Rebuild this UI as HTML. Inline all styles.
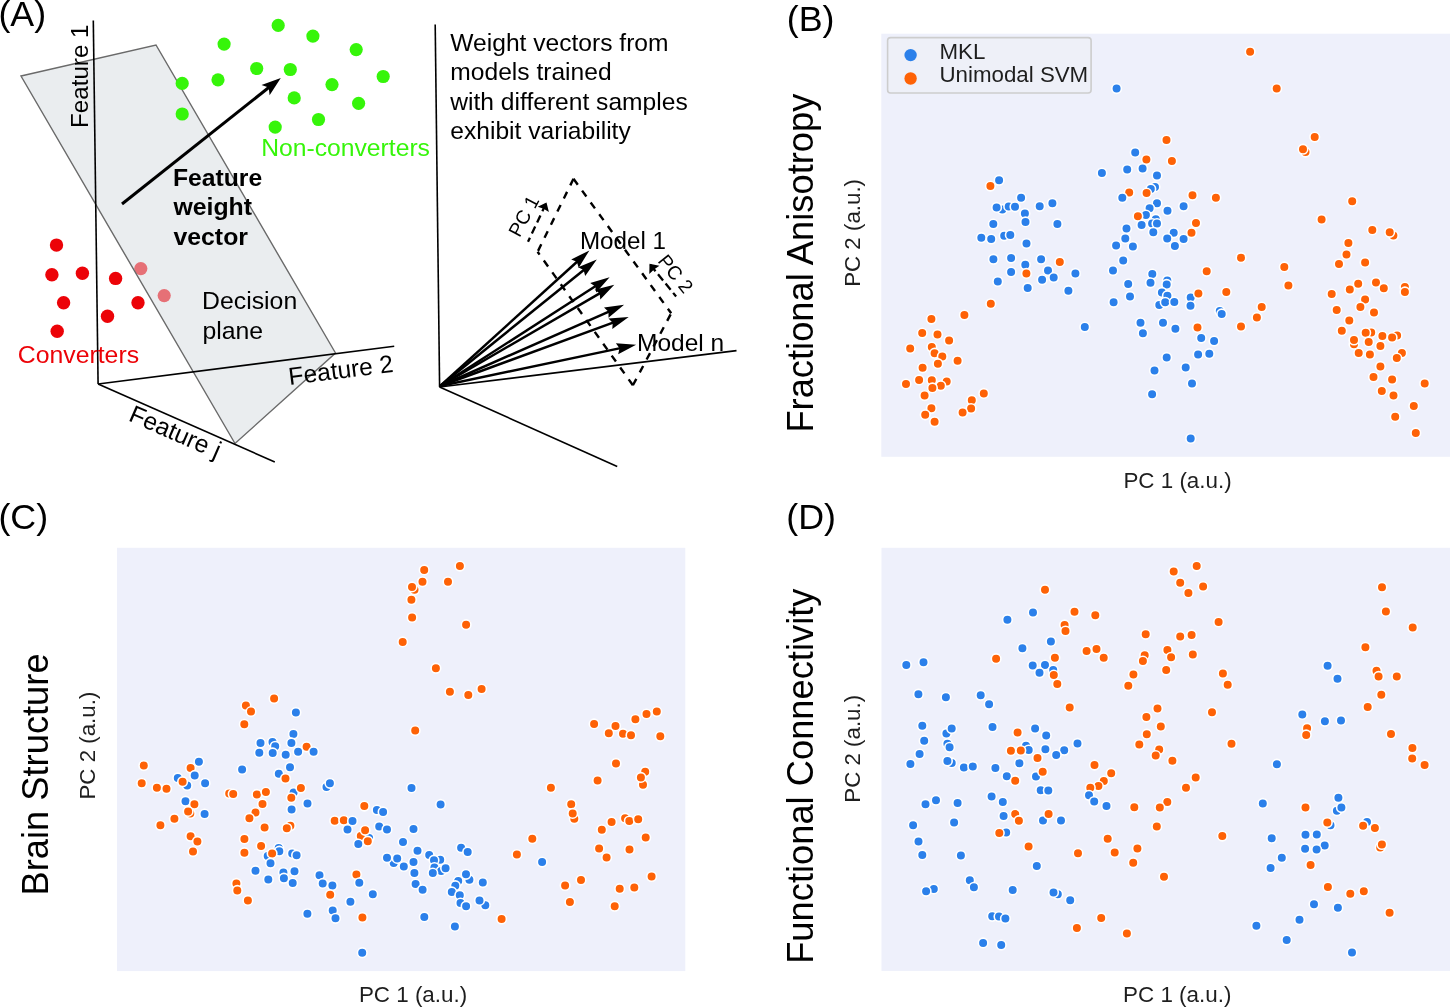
<!DOCTYPE html>
<html><head><meta charset="utf-8"><style>
html,body{margin:0;padding:0;background:#fff;overflow:hidden;}
svg{display:block;will-change:transform;}
text{font-family:"Liberation Sans",sans-serif;}
</style></head><body>
<svg width="1450" height="1007" viewBox="0 0 1450 1007">
<text x="-1.6" y="25.6" font-size="35.8" font-family="Liberation Sans, sans-serif" fill="#000">(A)</text>
<polygon points="21,76 156,45 335.5,353 235,443.5" fill="#eaedef"/>
<circle cx="140.8" cy="268.6" r="6.6" fill="#e67076"/>
<circle cx="164.2" cy="295.6" r="6.6" fill="#e67076"/>
<polygon points="21,76 156,45 335.5,353 235,443.5" fill="none" stroke="#6a6a6a" stroke-width="1.4"/>
<line x1="93.3" y1="20.4" x2="98.1" y2="384" stroke="#000" stroke-width="1.6"/>
<line x1="98.1" y1="384" x2="394.2" y2="346.3" stroke="#000" stroke-width="1.6"/>
<line x1="98.1" y1="384" x2="274.8" y2="462" stroke="#000" stroke-width="1.6"/>
<text transform="translate(88.0,128) rotate(-90)" font-size="24.2" font-family="Liberation Sans, sans-serif" fill="#000">Feature 1</text>
<text transform="translate(289.6,384.9) rotate(-7.2)" font-size="24.6" font-family="Liberation Sans, sans-serif" fill="#000">Feature 2</text>
<text transform="translate(127.4,420.3) rotate(23.5)" font-size="24.6" font-family="Liberation Sans, sans-serif" fill="#000">Feature j</text>
<circle cx="278.2" cy="25.4" r="6.6" fill="#36f50a"/>
<circle cx="312.9" cy="36.1" r="6.6" fill="#36f50a"/>
<circle cx="224.1" cy="44.1" r="6.6" fill="#36f50a"/>
<circle cx="356.2" cy="49.6" r="6.6" fill="#36f50a"/>
<circle cx="256.7" cy="68.5" r="6.6" fill="#36f50a"/>
<circle cx="290.3" cy="69.5" r="6.6" fill="#36f50a"/>
<circle cx="182.2" cy="83.4" r="6.6" fill="#36f50a"/>
<circle cx="218.0" cy="79.8" r="6.6" fill="#36f50a"/>
<circle cx="383.2" cy="76.5" r="6.6" fill="#36f50a"/>
<circle cx="332.0" cy="84.6" r="6.6" fill="#36f50a"/>
<circle cx="294.2" cy="97.9" r="6.6" fill="#36f50a"/>
<circle cx="358.6" cy="103.3" r="6.6" fill="#36f50a"/>
<circle cx="182.2" cy="114.0" r="6.6" fill="#36f50a"/>
<circle cx="318.5" cy="119.5" r="6.6" fill="#36f50a"/>
<circle cx="275.2" cy="127.1" r="6.6" fill="#36f50a"/>
<circle cx="56.5" cy="245.1" r="6.7" fill="#ec0308"/>
<circle cx="51.9" cy="274.8" r="6.7" fill="#ec0308"/>
<circle cx="82.4" cy="273.2" r="6.7" fill="#ec0308"/>
<circle cx="115.6" cy="278.4" r="6.7" fill="#ec0308"/>
<circle cx="63.6" cy="302.7" r="6.7" fill="#ec0308"/>
<circle cx="138.0" cy="302.7" r="6.7" fill="#ec0308"/>
<circle cx="107.5" cy="316.3" r="6.7" fill="#ec0308"/>
<circle cx="57.2" cy="331.3" r="6.7" fill="#ec0308"/>
<text x="261.2" y="155.9" font-size="24.7" font-family="Liberation Sans, sans-serif" fill="#36f50a">Non-converters</text>
<text x="17.8" y="362.6" font-size="24.8" font-family="Liberation Sans, sans-serif" fill="#ec0308">Converters</text>
<line x1="122.0" y1="204.0" x2="269.4" y2="87.0" stroke="#000" stroke-width="3"/><path d="M280.8,78.0 L269.6,95.2 L268.7,87.6 L261.5,85.0 Z" fill="#000"/>
<text x="173.0" y="186.3" font-size="24.7" font-weight="bold" font-family="Liberation Sans, sans-serif" fill="#000">Feature</text>
<text x="173.5" y="215.4" font-size="24.8" font-weight="bold" font-family="Liberation Sans, sans-serif" fill="#000">weight</text>
<text x="173.5" y="244.9" font-size="24.8" font-weight="bold" font-family="Liberation Sans, sans-serif" fill="#000">vector</text>
<text x="202.1" y="309.0" font-size="24.8" font-family="Liberation Sans, sans-serif" fill="#000">Decision</text>
<text x="202.4" y="338.6" font-size="24.8" font-family="Liberation Sans, sans-serif" fill="#000">plane</text>
<line x1="435.2" y1="24.6" x2="439.6" y2="387.0" stroke="#000" stroke-width="1.6"/>
<line x1="439.6" y1="387.0" x2="736.5" y2="350.6" stroke="#000" stroke-width="1.6"/>
<line x1="439.6" y1="387.0" x2="617.2" y2="466.4" stroke="#000" stroke-width="1.6"/>
<text x="450.3" y="50.9" font-size="24.6" font-family="Liberation Sans, sans-serif" fill="#000">Weight vectors from</text>
<text x="450.3" y="80.2" font-size="24.6" font-family="Liberation Sans, sans-serif" fill="#000">models trained</text>
<text x="450.3" y="109.6" font-size="24.6" font-family="Liberation Sans, sans-serif" fill="#000">with different samples</text>
<text x="450.3" y="139.0" font-size="24.6" font-family="Liberation Sans, sans-serif" fill="#000">exhibit variability</text>
<line x1="573.5" y1="178.8" x2="671.2" y2="313.3" stroke="#000" stroke-width="2.4" stroke-dasharray="7.3,7.3"/>
<line x1="573.5" y1="178.8" x2="537.6" y2="251.8" stroke="#000" stroke-width="2.4" stroke-dasharray="7.3,7.3"/>
<line x1="632.9" y1="385.3" x2="537.6" y2="251.8" stroke="#000" stroke-width="2.4" stroke-dasharray="7.3,7.3"/>
<line x1="632.9" y1="385.3" x2="671.2" y2="313.3" stroke="#000" stroke-width="2.4" stroke-dasharray="7.3,7.3"/>
<line x1="546.5" y1="202.5" x2="528.0" y2="241.8" stroke="#000" stroke-width="2.3" stroke-dasharray="7.7,4.6" stroke-dashoffset="-2"/>
<path d="M546.5,202.5 L548.9,212.0 L543.6,208.7 L537.7,206.7 Z" fill="#000"/>
<line x1="649.5" y1="263.8" x2="676.1" y2="296.5" stroke="#000" stroke-width="2.3" stroke-dasharray="8,4" stroke-dashoffset="-1.5"/>
<path d="M649.5,263.8 L659.4,265.7 L654.0,269.4 L649.3,273.9 Z" fill="#000"/>
<text transform="translate(519.4,238.2) rotate(-61.8)" font-size="19.4" font-family="Liberation Sans, sans-serif" fill="#000">PC 1</text>
<text transform="translate(657.0,261.3) rotate(51)" font-size="19.3" font-family="Liberation Sans, sans-serif" fill="#000">PC 2</text>
<line x1="440.2" y1="386.0" x2="577.6" y2="261.2" stroke="#000" stroke-width="2.5"/><path d="M589.4,250.4 L578.7,267.7 L576.8,261.8 L571.2,259.4 Z" fill="#000"/>
<line x1="440.2" y1="386.0" x2="584.4" y2="269.5" stroke="#000" stroke-width="2.5"/><path d="M596.8,259.4 L585.2,276.0 L583.6,270.1 L578.1,267.3 Z" fill="#000"/>
<line x1="440.2" y1="386.0" x2="596.1" y2="285.8" stroke="#000" stroke-width="2.5"/><path d="M609.6,277.2 L596.2,292.4 L595.3,286.4 L590.2,283.0 Z" fill="#000"/>
<line x1="440.2" y1="386.0" x2="600.5" y2="292.8" stroke="#000" stroke-width="2.5"/><path d="M614.3,284.8 L600.3,299.4 L599.6,293.3 L594.6,289.8 Z" fill="#000"/>
<line x1="440.2" y1="386.0" x2="609.5" y2="311.3" stroke="#000" stroke-width="2.5"/><path d="M624.1,304.8 L608.5,317.8 L608.5,311.7 L604.0,307.6 Z" fill="#000"/>
<line x1="440.2" y1="386.0" x2="613.7" y2="322.4" stroke="#000" stroke-width="2.5"/><path d="M628.7,316.9 L612.3,328.9 L612.7,322.8 L608.5,318.4 Z" fill="#000"/>
<line x1="440.2" y1="386.0" x2="620.4" y2="348.1" stroke="#000" stroke-width="2.5"/><path d="M636.1,344.8 L618.2,354.3 L619.5,348.3 L615.9,343.3 Z" fill="#000"/>
<text x="579.9" y="249.3" font-size="24.2" font-family="Liberation Sans, sans-serif" fill="#000">Model 1</text>
<text x="637.0" y="351.1" font-size="24.5" font-family="Liberation Sans, sans-serif" fill="#000">Model n</text>
<text x="786.8" y="30.6" font-size="35.8" font-family="Liberation Sans, sans-serif" fill="#000">(B)</text>
<text x="-1.6" y="528.6" font-size="35.8" font-family="Liberation Sans, sans-serif" fill="#000">(C)</text>
<text x="786.3" y="528.7" font-size="35.8" font-family="Liberation Sans, sans-serif" fill="#000">(D)</text>
<rect x="881.3" y="33.7" width="568.7" height="423.1" fill="#eef0fb"/><g stroke="#fff" stroke-width="1.6"><circle cx="990.4" cy="186.1" r="4.8" fill="#fe6206"/>
<circle cx="999.1" cy="180.2" r="4.8" fill="#2b80ea"/>
<circle cx="1021.1" cy="197.7" r="4.8" fill="#2b80ea"/>
<circle cx="1002.3" cy="209.5" r="4.8" fill="#2b80ea"/>
<circle cx="996.6" cy="207.4" r="4.8" fill="#2b80ea"/>
<circle cx="1008.7" cy="206.4" r="4.8" fill="#2b80ea"/>
<circle cx="1015.0" cy="206.8" r="4.8" fill="#2b80ea"/>
<circle cx="1039.7" cy="206.3" r="4.8" fill="#2b80ea"/>
<circle cx="1052.4" cy="203.3" r="4.8" fill="#2b80ea"/>
<circle cx="1024.9" cy="213.4" r="4.8" fill="#2b80ea"/>
<circle cx="1025.5" cy="221.9" r="4.8" fill="#2b80ea"/>
<circle cx="993.3" cy="224.1" r="4.8" fill="#2b80ea"/>
<circle cx="1057.4" cy="223.9" r="4.8" fill="#2b80ea"/>
<circle cx="981.3" cy="237.7" r="4.8" fill="#2b80ea"/>
<circle cx="991.2" cy="239.0" r="4.8" fill="#2b80ea"/>
<circle cx="1004.2" cy="235.8" r="4.8" fill="#2b80ea"/>
<circle cx="1010.3" cy="234.9" r="4.8" fill="#2b80ea"/>
<circle cx="1026.5" cy="243.5" r="4.8" fill="#2b80ea"/>
<circle cx="1250.1" cy="51.8" r="4.8" fill="#fe6206"/>
<circle cx="1116.6" cy="88.6" r="4.8" fill="#2b80ea"/>
<circle cx="1276.7" cy="88.6" r="4.8" fill="#fe6206"/>
<circle cx="1314.7" cy="137.0" r="4.8" fill="#fe6206"/>
<circle cx="1305.5" cy="152.1" r="4.8" fill="#fe6206"/>
<circle cx="1303.0" cy="149.2" r="4.8" fill="#fe6206"/>
<circle cx="1166.5" cy="140.0" r="4.8" fill="#fe6206"/>
<circle cx="1135.2" cy="152.4" r="4.8" fill="#2b80ea"/>
<circle cx="1146.4" cy="159.6" r="4.8" fill="#fe6206"/>
<circle cx="1171.9" cy="161.1" r="4.8" fill="#fe6206"/>
<circle cx="1101.9" cy="173.0" r="4.8" fill="#2b80ea"/>
<circle cx="1127.2" cy="169.5" r="4.8" fill="#2b80ea"/>
<circle cx="1142.6" cy="168.5" r="4.8" fill="#2b80ea"/>
<circle cx="1157.0" cy="175.5" r="4.8" fill="#2b80ea"/>
<circle cx="1155.0" cy="186.9" r="4.8" fill="#2b80ea"/>
<circle cx="1150.8" cy="188.9" r="4.8" fill="#2b80ea"/>
<circle cx="1129.2" cy="192.6" r="4.8" fill="#fe6206"/>
<circle cx="1146.6" cy="193.1" r="4.8" fill="#fe6206"/>
<circle cx="1122.3" cy="197.8" r="4.8" fill="#2b80ea"/>
<circle cx="1192.5" cy="195.3" r="4.8" fill="#fe6206"/>
<circle cx="1215.9" cy="197.8" r="4.8" fill="#fe6206"/>
<circle cx="1157.0" cy="203.3" r="4.8" fill="#2b80ea"/>
<circle cx="1149.6" cy="208.3" r="4.8" fill="#2b80ea"/>
<circle cx="1145.9" cy="215.0" r="4.8" fill="#2b80ea"/>
<circle cx="1167.5" cy="210.7" r="4.8" fill="#2b80ea"/>
<circle cx="1183.6" cy="206.3" r="4.8" fill="#2b80ea"/>
<circle cx="1137.9" cy="216.2" r="4.8" fill="#fe6206"/>
<circle cx="1155.8" cy="219.2" r="4.8" fill="#2b80ea"/>
<circle cx="1152.1" cy="223.6" r="4.8" fill="#2b80ea"/>
<circle cx="1157.0" cy="223.6" r="4.8" fill="#2b80ea"/>
<circle cx="1141.6" cy="225.1" r="4.8" fill="#2b80ea"/>
<circle cx="1196.0" cy="223.1" r="4.8" fill="#fe6206"/>
<circle cx="1126.5" cy="228.6" r="4.8" fill="#2b80ea"/>
<circle cx="1153.3" cy="232.3" r="4.8" fill="#2b80ea"/>
<circle cx="1173.7" cy="232.8" r="4.8" fill="#2b80ea"/>
<circle cx="1191.5" cy="232.8" r="4.8" fill="#fe6206"/>
<circle cx="1125.3" cy="238.5" r="4.8" fill="#2b80ea"/>
<circle cx="1167.2" cy="238.5" r="4.8" fill="#2b80ea"/>
<circle cx="1183.6" cy="239.0" r="4.8" fill="#2b80ea"/>
<circle cx="1116.1" cy="245.5" r="4.8" fill="#2b80ea"/>
<circle cx="1132.9" cy="246.5" r="4.8" fill="#2b80ea"/>
<circle cx="1174.9" cy="246.0" r="4.8" fill="#2b80ea"/>
<circle cx="1321.6" cy="219.4" r="4.8" fill="#fe6206"/>
<circle cx="1352.2" cy="201.3" r="4.8" fill="#fe6206"/>
<circle cx="1372.3" cy="229.9" r="4.8" fill="#fe6206"/>
<circle cx="1393.4" cy="235.6" r="4.8" fill="#fe6206"/>
<circle cx="1389.7" cy="232.3" r="4.8" fill="#fe6206"/>
<circle cx="1348.4" cy="243.0" r="4.8" fill="#fe6206"/>
<circle cx="993.4" cy="259.2" r="4.8" fill="#2b80ea"/>
<circle cx="1011.1" cy="258.1" r="4.8" fill="#2b80ea"/>
<circle cx="1025.3" cy="264.7" r="4.8" fill="#2b80ea"/>
<circle cx="1041.1" cy="259.2" r="4.8" fill="#2b80ea"/>
<circle cx="1059.8" cy="261.9" r="4.8" fill="#fe6206"/>
<circle cx="1011.1" cy="272.1" r="4.8" fill="#2b80ea"/>
<circle cx="1026.4" cy="273.4" r="4.8" fill="#fe6206"/>
<circle cx="1048.0" cy="270.4" r="4.8" fill="#2b80ea"/>
<circle cx="1053.7" cy="277.6" r="4.8" fill="#2b80ea"/>
<circle cx="1042.1" cy="279.8" r="4.8" fill="#2b80ea"/>
<circle cx="1075.4" cy="273.4" r="4.8" fill="#2b80ea"/>
<circle cx="997.8" cy="281.5" r="4.8" fill="#2b80ea"/>
<circle cx="1027.7" cy="287.9" r="4.8" fill="#2b80ea"/>
<circle cx="1068.4" cy="290.7" r="4.8" fill="#2b80ea"/>
<circle cx="990.8" cy="303.8" r="4.8" fill="#fe6206"/>
<circle cx="964.4" cy="315.0" r="4.8" fill="#fe6206"/>
<circle cx="931.4" cy="319.1" r="4.8" fill="#fe6206"/>
<circle cx="922.2" cy="333.1" r="4.8" fill="#fe6206"/>
<circle cx="937.5" cy="334.4" r="4.8" fill="#fe6206"/>
<circle cx="949.1" cy="340.5" r="4.8" fill="#fe6206"/>
<circle cx="910.2" cy="348.6" r="4.8" fill="#fe6206"/>
<circle cx="931.8" cy="347.1" r="4.8" fill="#fe6206"/>
<circle cx="934.6" cy="353.2" r="4.8" fill="#fe6206"/>
<circle cx="942.3" cy="356.5" r="4.8" fill="#fe6206"/>
<circle cx="957.6" cy="360.8" r="4.8" fill="#fe6206"/>
<circle cx="937.9" cy="363.7" r="4.8" fill="#fe6206"/>
<circle cx="922.6" cy="367.8" r="4.8" fill="#fe6206"/>
<circle cx="919.1" cy="379.9" r="4.8" fill="#fe6206"/>
<circle cx="931.8" cy="380.3" r="4.8" fill="#fe6206"/>
<circle cx="946.7" cy="381.6" r="4.8" fill="#fe6206"/>
<circle cx="940.8" cy="385.8" r="4.8" fill="#fe6206"/>
<circle cx="932.4" cy="387.9" r="4.8" fill="#fe6206"/>
<circle cx="906.0" cy="384.0" r="4.8" fill="#fe6206"/>
<circle cx="924.6" cy="395.6" r="4.8" fill="#fe6206"/>
<circle cx="983.8" cy="393.4" r="4.8" fill="#fe6206"/>
<circle cx="971.8" cy="400.2" r="4.8" fill="#fe6206"/>
<circle cx="971.1" cy="408.5" r="4.8" fill="#fe6206"/>
<circle cx="962.6" cy="412.6" r="4.8" fill="#fe6206"/>
<circle cx="931.4" cy="408.3" r="4.8" fill="#fe6206"/>
<circle cx="925.2" cy="414.8" r="4.8" fill="#fe6206"/>
<circle cx="934.6" cy="421.8" r="4.8" fill="#fe6206"/>
<circle cx="1084.8" cy="327.0" r="4.8" fill="#2b80ea"/>
<circle cx="1123.2" cy="260.5" r="4.8" fill="#2b80ea"/>
<circle cx="1113.0" cy="270.6" r="4.8" fill="#2b80ea"/>
<circle cx="1128.2" cy="284.1" r="4.8" fill="#2b80ea"/>
<circle cx="1130.0" cy="296.4" r="4.8" fill="#2b80ea"/>
<circle cx="1113.6" cy="302.3" r="4.8" fill="#2b80ea"/>
<circle cx="1152.3" cy="274.1" r="4.8" fill="#2b80ea"/>
<circle cx="1150.5" cy="282.8" r="4.8" fill="#2b80ea"/>
<circle cx="1167.3" cy="280.4" r="4.8" fill="#2b80ea"/>
<circle cx="1166.7" cy="284.4" r="4.8" fill="#2b80ea"/>
<circle cx="1161.9" cy="292.4" r="4.8" fill="#2b80ea"/>
<circle cx="1167.4" cy="295.7" r="4.8" fill="#2b80ea"/>
<circle cx="1159.3" cy="304.9" r="4.8" fill="#2b80ea"/>
<circle cx="1165.2" cy="302.3" r="4.8" fill="#2b80ea"/>
<circle cx="1140.5" cy="322.8" r="4.8" fill="#2b80ea"/>
<circle cx="1163.0" cy="322.8" r="4.8" fill="#2b80ea"/>
<circle cx="1142.9" cy="333.3" r="4.8" fill="#2b80ea"/>
<circle cx="1166.7" cy="357.4" r="4.8" fill="#2b80ea"/>
<circle cx="1154.5" cy="370.5" r="4.8" fill="#2b80ea"/>
<circle cx="1152.1" cy="394.3" r="4.8" fill="#2b80ea"/>
<circle cx="1174.3" cy="302.1" r="4.8" fill="#2b80ea"/>
<circle cx="1190.7" cy="297.5" r="4.8" fill="#2b80ea"/>
<circle cx="1190.5" cy="305.8" r="4.8" fill="#2b80ea"/>
<circle cx="1198.4" cy="293.6" r="4.8" fill="#fe6206"/>
<circle cx="1206.7" cy="271.3" r="4.8" fill="#fe6206"/>
<circle cx="1241.0" cy="257.7" r="4.8" fill="#fe6206"/>
<circle cx="1226.3" cy="292.0" r="4.8" fill="#fe6206"/>
<circle cx="1284.3" cy="266.9" r="4.8" fill="#fe6206"/>
<circle cx="1288.4" cy="285.5" r="4.8" fill="#fe6206"/>
<circle cx="1261.7" cy="307.1" r="4.8" fill="#fe6206"/>
<circle cx="1256.9" cy="317.4" r="4.8" fill="#fe6206"/>
<circle cx="1241.0" cy="326.6" r="4.8" fill="#fe6206"/>
<circle cx="1197.5" cy="327.4" r="4.8" fill="#fe6206"/>
<circle cx="1219.8" cy="311.0" r="4.8" fill="#2b80ea"/>
<circle cx="1221.7" cy="313.9" r="4.8" fill="#2b80ea"/>
<circle cx="1175.4" cy="328.7" r="4.8" fill="#2b80ea"/>
<circle cx="1201.2" cy="338.1" r="4.8" fill="#2b80ea"/>
<circle cx="1214.1" cy="341.0" r="4.8" fill="#2b80ea"/>
<circle cx="1198.1" cy="354.5" r="4.8" fill="#2b80ea"/>
<circle cx="1209.3" cy="353.7" r="4.8" fill="#2b80ea"/>
<circle cx="1185.7" cy="367.4" r="4.8" fill="#2b80ea"/>
<circle cx="1192.0" cy="383.6" r="4.8" fill="#2b80ea"/>
<circle cx="1190.7" cy="438.5" r="4.8" fill="#2b80ea"/>
<circle cx="1346.5" cy="254.6" r="4.8" fill="#fe6206"/>
<circle cx="1339.0" cy="264.0" r="4.8" fill="#fe6206"/>
<circle cx="1365.1" cy="262.4" r="4.8" fill="#fe6206"/>
<circle cx="1358.2" cy="283.8" r="4.8" fill="#fe6206"/>
<circle cx="1376.0" cy="282.4" r="4.8" fill="#fe6206"/>
<circle cx="1383.8" cy="288.2" r="4.8" fill="#fe6206"/>
<circle cx="1404.9" cy="287.1" r="4.8" fill="#fe6206"/>
<circle cx="1404.9" cy="291.9" r="4.8" fill="#fe6206"/>
<circle cx="1331.7" cy="294.1" r="4.8" fill="#fe6206"/>
<circle cx="1349.8" cy="289.6" r="4.8" fill="#fe6206"/>
<circle cx="1365.1" cy="299.4" r="4.8" fill="#fe6206"/>
<circle cx="1360.4" cy="306.9" r="4.8" fill="#fe6206"/>
<circle cx="1336.7" cy="309.9" r="4.8" fill="#fe6206"/>
<circle cx="1374.0" cy="312.4" r="4.8" fill="#fe6206"/>
<circle cx="1349.3" cy="320.5" r="4.8" fill="#fe6206"/>
<circle cx="1341.8" cy="330.8" r="4.8" fill="#fe6206"/>
<circle cx="1371.2" cy="332.5" r="4.8" fill="#fe6206"/>
<circle cx="1365.7" cy="332.8" r="4.8" fill="#fe6206"/>
<circle cx="1382.4" cy="336.1" r="4.8" fill="#fe6206"/>
<circle cx="1397.1" cy="335.5" r="4.8" fill="#fe6206"/>
<circle cx="1392.1" cy="337.5" r="4.8" fill="#fe6206"/>
<circle cx="1354.0" cy="344.2" r="4.8" fill="#fe6206"/>
<circle cx="1354.0" cy="340.0" r="4.8" fill="#fe6206"/>
<circle cx="1368.7" cy="341.9" r="4.8" fill="#fe6206"/>
<circle cx="1380.4" cy="346.1" r="4.8" fill="#fe6206"/>
<circle cx="1358.7" cy="353.1" r="4.8" fill="#fe6206"/>
<circle cx="1369.9" cy="354.5" r="4.8" fill="#fe6206"/>
<circle cx="1401.9" cy="353.1" r="4.8" fill="#fe6206"/>
<circle cx="1396.8" cy="358.1" r="4.8" fill="#fe6206"/>
<circle cx="1380.4" cy="366.4" r="4.8" fill="#fe6206"/>
<circle cx="1373.5" cy="377.0" r="4.8" fill="#fe6206"/>
<circle cx="1392.1" cy="379.5" r="4.8" fill="#fe6206"/>
<circle cx="1424.7" cy="383.4" r="4.8" fill="#fe6206"/>
<circle cx="1381.8" cy="390.9" r="4.8" fill="#fe6206"/>
<circle cx="1393.5" cy="395.4" r="4.8" fill="#fe6206"/>
<circle cx="1413.8" cy="405.9" r="4.8" fill="#fe6206"/>
<circle cx="1395.2" cy="416.8" r="4.8" fill="#fe6206"/>
<circle cx="1415.8" cy="432.9" r="4.8" fill="#fe6206"/></g>
<rect x="117" y="547.8" width="568.3" height="423.30000000000007" fill="#eef0fb"/><g stroke="#fff" stroke-width="1.6"><circle cx="274.1" cy="698.6" r="4.8" fill="#fe6206"/>
<circle cx="245.9" cy="705.6" r="4.8" fill="#fe6206"/>
<circle cx="251.0" cy="711.6" r="4.8" fill="#fe6206"/>
<circle cx="295.9" cy="712.4" r="4.8" fill="#2b80ea"/>
<circle cx="244.3" cy="724.3" r="4.8" fill="#fe6206"/>
<circle cx="293.4" cy="734.0" r="4.8" fill="#2b80ea"/>
<circle cx="260.5" cy="742.9" r="4.8" fill="#2b80ea"/>
<circle cx="272.5" cy="742.0" r="4.8" fill="#2b80ea"/>
<circle cx="275.2" cy="746.3" r="4.8" fill="#2b80ea"/>
<circle cx="291.4" cy="742.9" r="4.8" fill="#2b80ea"/>
<circle cx="306.6" cy="746.8" r="4.8" fill="#fe6206"/>
<circle cx="259.3" cy="752.7" r="4.8" fill="#2b80ea"/>
<circle cx="272.7" cy="752.9" r="4.8" fill="#2b80ea"/>
<circle cx="285.7" cy="754.7" r="4.8" fill="#2b80ea"/>
<circle cx="298.1" cy="751.8" r="4.8" fill="#2b80ea"/>
<circle cx="313.6" cy="751.8" r="4.8" fill="#2b80ea"/>
<circle cx="143.8" cy="765.6" r="4.8" fill="#fe6206"/>
<circle cx="198.9" cy="761.7" r="4.8" fill="#2b80ea"/>
<circle cx="190.6" cy="768.1" r="4.8" fill="#fe6206"/>
<circle cx="194.7" cy="775.4" r="4.8" fill="#2b80ea"/>
<circle cx="177.8" cy="777.9" r="4.8" fill="#2b80ea"/>
<circle cx="187.2" cy="785.5" r="4.8" fill="#2b80ea"/>
<circle cx="182.6" cy="781.7" r="4.8" fill="#fe6206"/>
<circle cx="205.1" cy="783.3" r="4.8" fill="#2b80ea"/>
<circle cx="141.7" cy="783.3" r="4.8" fill="#fe6206"/>
<circle cx="156.9" cy="787.8" r="4.8" fill="#fe6206"/>
<circle cx="166.5" cy="788.8" r="4.8" fill="#fe6206"/>
<circle cx="242.1" cy="769.5" r="4.8" fill="#2b80ea"/>
<circle cx="290.0" cy="767.2" r="4.8" fill="#2b80ea"/>
<circle cx="278.8" cy="773.7" r="4.8" fill="#2b80ea"/>
<circle cx="285.5" cy="778.5" r="4.8" fill="#fe6206"/>
<circle cx="326.5" cy="786.9" r="4.8" fill="#2b80ea"/>
<circle cx="329.9" cy="783.3" r="4.8" fill="#2b80ea"/>
<circle cx="229.2" cy="793.5" r="4.8" fill="#fe6206"/>
<circle cx="233.2" cy="794.0" r="4.8" fill="#fe6206"/>
<circle cx="256.9" cy="794.4" r="4.8" fill="#fe6206"/>
<circle cx="265.9" cy="792.1" r="4.8" fill="#fe6206"/>
<circle cx="293.6" cy="792.6" r="4.8" fill="#2b80ea"/>
<circle cx="300.9" cy="788.1" r="4.8" fill="#fe6206"/>
<circle cx="291.3" cy="797.8" r="4.8" fill="#fe6206"/>
<circle cx="185.5" cy="801.2" r="4.8" fill="#2b80ea"/>
<circle cx="194.4" cy="804.2" r="4.8" fill="#fe6206"/>
<circle cx="262.5" cy="803.9" r="4.8" fill="#fe6206"/>
<circle cx="307.5" cy="803.5" r="4.8" fill="#2b80ea"/>
<circle cx="190.3" cy="813.5" r="4.8" fill="#fe6206"/>
<circle cx="188.1" cy="811.4" r="4.8" fill="#fe6206"/>
<circle cx="204.6" cy="814.0" r="4.8" fill="#2b80ea"/>
<circle cx="291.6" cy="809.4" r="4.8" fill="#2b80ea"/>
<circle cx="255.5" cy="812.6" r="4.8" fill="#fe6206"/>
<circle cx="249.4" cy="818.2" r="4.8" fill="#fe6206"/>
<circle cx="174.4" cy="818.7" r="4.8" fill="#fe6206"/>
<circle cx="160.4" cy="825.3" r="4.8" fill="#fe6206"/>
<circle cx="264.6" cy="827.6" r="4.8" fill="#fe6206"/>
<circle cx="290.4" cy="825.7" r="4.8" fill="#fe6206"/>
<circle cx="286.8" cy="828.3" r="4.8" fill="#fe6206"/>
<circle cx="334.7" cy="820.8" r="4.8" fill="#fe6206"/>
<circle cx="190.6" cy="836.2" r="4.8" fill="#fe6206"/>
<circle cx="197.4" cy="841.4" r="4.8" fill="#fe6206"/>
<circle cx="193.0" cy="851.6" r="4.8" fill="#fe6206"/>
<circle cx="244.4" cy="838.9" r="4.8" fill="#fe6206"/>
<circle cx="261.1" cy="846.0" r="4.8" fill="#fe6206"/>
<circle cx="244.4" cy="852.7" r="4.8" fill="#fe6206"/>
<circle cx="278.7" cy="848.0" r="4.8" fill="#2b80ea"/>
<circle cx="279.3" cy="851.2" r="4.8" fill="#2b80ea"/>
<circle cx="267.7" cy="856.0" r="4.8" fill="#2b80ea"/>
<circle cx="292.2" cy="853.4" r="4.8" fill="#2b80ea"/>
<circle cx="296.6" cy="855.2" r="4.8" fill="#2b80ea"/>
<circle cx="272.1" cy="853.4" r="4.8" fill="#fe6206"/>
<circle cx="270.5" cy="863.2" r="4.8" fill="#2b80ea"/>
<circle cx="255.5" cy="870.7" r="4.8" fill="#2b80ea"/>
<circle cx="268.3" cy="879.5" r="4.8" fill="#2b80ea"/>
<circle cx="283.4" cy="872.5" r="4.8" fill="#2b80ea"/>
<circle cx="294.5" cy="871.3" r="4.8" fill="#2b80ea"/>
<circle cx="283.9" cy="878.2" r="4.8" fill="#2b80ea"/>
<circle cx="292.7" cy="883.1" r="4.8" fill="#2b80ea"/>
<circle cx="319.5" cy="875.2" r="4.8" fill="#2b80ea"/>
<circle cx="322.7" cy="883.4" r="4.8" fill="#2b80ea"/>
<circle cx="332.4" cy="885.5" r="4.8" fill="#2b80ea"/>
<circle cx="330.2" cy="894.8" r="4.8" fill="#fe6206"/>
<circle cx="307.4" cy="913.8" r="4.8" fill="#2b80ea"/>
<circle cx="332.7" cy="910.4" r="4.8" fill="#2b80ea"/>
<circle cx="335.5" cy="918.3" r="4.8" fill="#2b80ea"/>
<circle cx="236.4" cy="883.4" r="4.8" fill="#fe6206"/>
<circle cx="237.3" cy="890.4" r="4.8" fill="#fe6206"/>
<circle cx="247.9" cy="900.4" r="4.8" fill="#fe6206"/>
<circle cx="424.2" cy="569.9" r="4.8" fill="#fe6206"/>
<circle cx="459.9" cy="566.1" r="4.8" fill="#fe6206"/>
<circle cx="422.5" cy="581.8" r="4.8" fill="#fe6206"/>
<circle cx="448.0" cy="581.8" r="4.8" fill="#fe6206"/>
<circle cx="414.5" cy="589.8" r="4.8" fill="#fe6206"/>
<circle cx="412.0" cy="586.9" r="4.8" fill="#fe6206"/>
<circle cx="411.4" cy="599.7" r="4.8" fill="#fe6206"/>
<circle cx="412.1" cy="617.5" r="4.8" fill="#fe6206"/>
<circle cx="466.1" cy="624.7" r="4.8" fill="#fe6206"/>
<circle cx="402.7" cy="641.9" r="4.8" fill="#fe6206"/>
<circle cx="435.9" cy="668.2" r="4.8" fill="#fe6206"/>
<circle cx="449.9" cy="691.8" r="4.8" fill="#fe6206"/>
<circle cx="468.3" cy="695.0" r="4.8" fill="#fe6206"/>
<circle cx="481.6" cy="689.0" r="4.8" fill="#fe6206"/>
<circle cx="415.2" cy="730.6" r="4.8" fill="#fe6206"/>
<circle cx="411.5" cy="787.9" r="4.8" fill="#2b80ea"/>
<circle cx="440.6" cy="804.4" r="4.8" fill="#2b80ea"/>
<circle cx="364.3" cy="806.1" r="4.8" fill="#fe6206"/>
<circle cx="376.9" cy="810.0" r="4.8" fill="#2b80ea"/>
<circle cx="383.1" cy="811.9" r="4.8" fill="#2b80ea"/>
<circle cx="343.8" cy="820.3" r="4.8" fill="#fe6206"/>
<circle cx="352.5" cy="821.0" r="4.8" fill="#2b80ea"/>
<circle cx="347.5" cy="829.6" r="4.8" fill="#2b80ea"/>
<circle cx="379.2" cy="826.5" r="4.8" fill="#2b80ea"/>
<circle cx="387.0" cy="829.4" r="4.8" fill="#2b80ea"/>
<circle cx="413.5" cy="829.0" r="4.8" fill="#2b80ea"/>
<circle cx="369.1" cy="838.1" r="4.8" fill="#2b80ea"/>
<circle cx="360.8" cy="836.0" r="4.8" fill="#fe6206"/>
<circle cx="365.1" cy="830.3" r="4.8" fill="#fe6206"/>
<circle cx="367.8" cy="841.2" r="4.8" fill="#fe6206"/>
<circle cx="358.3" cy="844.1" r="4.8" fill="#2b80ea"/>
<circle cx="403.0" cy="842.1" r="4.8" fill="#2b80ea"/>
<circle cx="417.5" cy="850.7" r="4.8" fill="#2b80ea"/>
<circle cx="393.7" cy="862.9" r="4.8" fill="#2b80ea"/>
<circle cx="387.0" cy="857.8" r="4.8" fill="#2b80ea"/>
<circle cx="397.2" cy="858.4" r="4.8" fill="#2b80ea"/>
<circle cx="403.8" cy="866.5" r="4.8" fill="#2b80ea"/>
<circle cx="413.5" cy="862.1" r="4.8" fill="#2b80ea"/>
<circle cx="414.4" cy="873.1" r="4.8" fill="#2b80ea"/>
<circle cx="429.2" cy="855.1" r="4.8" fill="#2b80ea"/>
<circle cx="440.2" cy="859.8" r="4.8" fill="#2b80ea"/>
<circle cx="434.0" cy="860.2" r="4.8" fill="#2b80ea"/>
<circle cx="434.4" cy="867.5" r="4.8" fill="#2b80ea"/>
<circle cx="441.2" cy="871.0" r="4.8" fill="#2b80ea"/>
<circle cx="445.6" cy="868.3" r="4.8" fill="#2b80ea"/>
<circle cx="432.8" cy="873.1" r="4.8" fill="#2b80ea"/>
<circle cx="461.1" cy="847.8" r="4.8" fill="#2b80ea"/>
<circle cx="467.7" cy="852.0" r="4.8" fill="#2b80ea"/>
<circle cx="516.9" cy="854.5" r="4.8" fill="#fe6206"/>
<circle cx="469.4" cy="879.7" r="4.8" fill="#2b80ea"/>
<circle cx="466.0" cy="874.3" r="4.8" fill="#2b80ea"/>
<circle cx="458.2" cy="881.1" r="4.8" fill="#2b80ea"/>
<circle cx="455.3" cy="885.7" r="4.8" fill="#2b80ea"/>
<circle cx="482.8" cy="882.6" r="4.8" fill="#2b80ea"/>
<circle cx="451.8" cy="891.9" r="4.8" fill="#2b80ea"/>
<circle cx="459.8" cy="895.2" r="4.8" fill="#2b80ea"/>
<circle cx="460.5" cy="903.1" r="4.8" fill="#2b80ea"/>
<circle cx="466.1" cy="906.2" r="4.8" fill="#2b80ea"/>
<circle cx="485.3" cy="905.3" r="4.8" fill="#2b80ea"/>
<circle cx="479.5" cy="900.4" r="4.8" fill="#2b80ea"/>
<circle cx="415.6" cy="884.0" r="4.8" fill="#2b80ea"/>
<circle cx="422.6" cy="889.8" r="4.8" fill="#2b80ea"/>
<circle cx="356.4" cy="874.5" r="4.8" fill="#fe6206"/>
<circle cx="359.3" cy="882.8" r="4.8" fill="#2b80ea"/>
<circle cx="372.8" cy="894.2" r="4.8" fill="#2b80ea"/>
<circle cx="350.4" cy="901.8" r="4.8" fill="#2b80ea"/>
<circle cx="362.4" cy="917.5" r="4.8" fill="#fe6206"/>
<circle cx="424.3" cy="916.9" r="4.8" fill="#2b80ea"/>
<circle cx="454.9" cy="926.4" r="4.8" fill="#2b80ea"/>
<circle cx="501.6" cy="919.0" r="4.8" fill="#fe6206"/>
<circle cx="362.2" cy="952.7" r="4.8" fill="#2b80ea"/>
<circle cx="594.1" cy="723.9" r="4.8" fill="#fe6206"/>
<circle cx="615.5" cy="726.0" r="4.8" fill="#fe6206"/>
<circle cx="608.8" cy="733.2" r="4.8" fill="#fe6206"/>
<circle cx="623.0" cy="733.7" r="4.8" fill="#fe6206"/>
<circle cx="631.0" cy="735.2" r="4.8" fill="#fe6206"/>
<circle cx="635.4" cy="719.3" r="4.8" fill="#fe6206"/>
<circle cx="646.5" cy="714.0" r="4.8" fill="#fe6206"/>
<circle cx="656.8" cy="711.6" r="4.8" fill="#fe6206"/>
<circle cx="660.3" cy="736.3" r="4.8" fill="#fe6206"/>
<circle cx="616.0" cy="763.4" r="4.8" fill="#fe6206"/>
<circle cx="645.2" cy="771.7" r="4.8" fill="#fe6206"/>
<circle cx="643.0" cy="784.8" r="4.8" fill="#fe6206"/>
<circle cx="640.9" cy="777.4" r="4.8" fill="#fe6206"/>
<circle cx="597.6" cy="780.6" r="4.8" fill="#fe6206"/>
<circle cx="550.9" cy="787.8" r="4.8" fill="#fe6206"/>
<circle cx="571.2" cy="804.2" r="4.8" fill="#fe6206"/>
<circle cx="574.3" cy="818.8" r="4.8" fill="#fe6206"/>
<circle cx="572.7" cy="813.4" r="4.8" fill="#fe6206"/>
<circle cx="611.6" cy="821.9" r="4.8" fill="#fe6206"/>
<circle cx="625.1" cy="818.2" r="4.8" fill="#fe6206"/>
<circle cx="629.3" cy="821.0" r="4.8" fill="#fe6206"/>
<circle cx="638.2" cy="819.3" r="4.8" fill="#fe6206"/>
<circle cx="601.8" cy="829.8" r="4.8" fill="#fe6206"/>
<circle cx="645.7" cy="837.6" r="4.8" fill="#fe6206"/>
<circle cx="532.3" cy="838.7" r="4.8" fill="#fe6206"/>
<circle cx="542.1" cy="862.1" r="4.8" fill="#2b80ea"/>
<circle cx="599.1" cy="848.5" r="4.8" fill="#fe6206"/>
<circle cx="629.5" cy="849.4" r="4.8" fill="#fe6206"/>
<circle cx="606.6" cy="857.5" r="4.8" fill="#fe6206"/>
<circle cx="651.6" cy="876.5" r="4.8" fill="#fe6206"/>
<circle cx="581.0" cy="880.0" r="4.8" fill="#fe6206"/>
<circle cx="565.1" cy="885.5" r="4.8" fill="#fe6206"/>
<circle cx="619.7" cy="888.7" r="4.8" fill="#fe6206"/>
<circle cx="634.3" cy="887.6" r="4.8" fill="#fe6206"/>
<circle cx="569.9" cy="902.1" r="4.8" fill="#fe6206"/>
<circle cx="614.7" cy="906.2" r="4.8" fill="#fe6206"/></g>
<rect x="881.5" y="547.8" width="568.5" height="423.1" fill="#eef0fb"/><g stroke="#fff" stroke-width="1.6"><circle cx="1045.0" cy="589.7" r="4.8" fill="#fe6206"/>
<circle cx="1033.0" cy="612.6" r="4.8" fill="#2b80ea"/>
<circle cx="1007.4" cy="619.7" r="4.8" fill="#2b80ea"/>
<circle cx="1074.5" cy="611.7" r="4.8" fill="#fe6206"/>
<circle cx="1095.3" cy="615.3" r="4.8" fill="#fe6206"/>
<circle cx="1064.6" cy="624.9" r="4.8" fill="#fe6206"/>
<circle cx="1065.5" cy="631.0" r="4.8" fill="#fe6206"/>
<circle cx="1050.9" cy="641.4" r="4.8" fill="#2b80ea"/>
<circle cx="1022.4" cy="648.3" r="4.8" fill="#2b80ea"/>
<circle cx="1086.6" cy="651.0" r="4.8" fill="#fe6206"/>
<circle cx="1096.5" cy="649.1" r="4.8" fill="#fe6206"/>
<circle cx="996.1" cy="658.7" r="4.8" fill="#fe6206"/>
<circle cx="1054.9" cy="657.8" r="4.8" fill="#fe6206"/>
<circle cx="906.3" cy="665.0" r="4.8" fill="#2b80ea"/>
<circle cx="923.5" cy="662.3" r="4.8" fill="#2b80ea"/>
<circle cx="1032.7" cy="665.5" r="4.8" fill="#2b80ea"/>
<circle cx="1045.0" cy="665.0" r="4.8" fill="#2b80ea"/>
<circle cx="1053.2" cy="670.1" r="4.8" fill="#2b80ea"/>
<circle cx="1039.5" cy="672.7" r="4.8" fill="#2b80ea"/>
<circle cx="1053.8" cy="675.1" r="4.8" fill="#fe6206"/>
<circle cx="1057.3" cy="684.1" r="4.8" fill="#fe6206"/>
<circle cx="918.4" cy="694.2" r="4.8" fill="#2b80ea"/>
<circle cx="945.9" cy="697.3" r="4.8" fill="#2b80ea"/>
<circle cx="980.7" cy="695.2" r="4.8" fill="#2b80ea"/>
<circle cx="989.1" cy="704.3" r="4.8" fill="#2b80ea"/>
<circle cx="1069.7" cy="707.4" r="4.8" fill="#fe6206"/>
<circle cx="1196.7" cy="566.1" r="4.8" fill="#fe6206"/>
<circle cx="1173.7" cy="571.4" r="4.8" fill="#fe6206"/>
<circle cx="1180.2" cy="582.7" r="4.8" fill="#fe6206"/>
<circle cx="1203.1" cy="586.6" r="4.8" fill="#fe6206"/>
<circle cx="1188.4" cy="592.9" r="4.8" fill="#fe6206"/>
<circle cx="1218.6" cy="622.0" r="4.8" fill="#fe6206"/>
<circle cx="1145.7" cy="634.3" r="4.8" fill="#fe6206"/>
<circle cx="1180.2" cy="636.5" r="4.8" fill="#fe6206"/>
<circle cx="1191.6" cy="634.9" r="4.8" fill="#fe6206"/>
<circle cx="1103.7" cy="657.8" r="4.8" fill="#fe6206"/>
<circle cx="1144.7" cy="655.3" r="4.8" fill="#fe6206"/>
<circle cx="1142.9" cy="661.1" r="4.8" fill="#fe6206"/>
<circle cx="1167.4" cy="650.0" r="4.8" fill="#fe6206"/>
<circle cx="1171.1" cy="657.3" r="4.8" fill="#fe6206"/>
<circle cx="1192.8" cy="654.6" r="4.8" fill="#fe6206"/>
<circle cx="1166.2" cy="670.1" r="4.8" fill="#fe6206"/>
<circle cx="1133.4" cy="674.4" r="4.8" fill="#fe6206"/>
<circle cx="1128.3" cy="685.7" r="4.8" fill="#fe6206"/>
<circle cx="1222.9" cy="673.5" r="4.8" fill="#fe6206"/>
<circle cx="1227.7" cy="684.8" r="4.8" fill="#fe6206"/>
<circle cx="1157.5" cy="708.4" r="4.8" fill="#fe6206"/>
<circle cx="1146.4" cy="717.1" r="4.8" fill="#fe6206"/>
<circle cx="1212.0" cy="712.3" r="4.8" fill="#fe6206"/>
<circle cx="1382.0" cy="587.2" r="4.8" fill="#fe6206"/>
<circle cx="1385.9" cy="611.4" r="4.8" fill="#fe6206"/>
<circle cx="1412.7" cy="627.5" r="4.8" fill="#fe6206"/>
<circle cx="1365.4" cy="647.3" r="4.8" fill="#fe6206"/>
<circle cx="1327.6" cy="665.8" r="4.8" fill="#2b80ea"/>
<circle cx="1337.5" cy="678.7" r="4.8" fill="#2b80ea"/>
<circle cx="1376.5" cy="670.8" r="4.8" fill="#fe6206"/>
<circle cx="1378.6" cy="676.4" r="4.8" fill="#fe6206"/>
<circle cx="1396.8" cy="676.4" r="4.8" fill="#fe6206"/>
<circle cx="1381.3" cy="694.8" r="4.8" fill="#fe6206"/>
<circle cx="1367.7" cy="707.0" r="4.8" fill="#fe6206"/>
<circle cx="1302.3" cy="714.4" r="4.8" fill="#2b80ea"/>
<circle cx="1324.9" cy="721.3" r="4.8" fill="#2b80ea"/>
<circle cx="1341.0" cy="720.4" r="4.8" fill="#2b80ea"/>
<circle cx="1307.1" cy="728.2" r="4.8" fill="#fe6206"/>
<circle cx="1306.2" cy="734.9" r="4.8" fill="#fe6206"/>
<circle cx="1391.0" cy="734.0" r="4.8" fill="#fe6206"/>
<circle cx="1412.4" cy="748.0" r="4.8" fill="#fe6206"/>
<circle cx="1412.2" cy="758.4" r="4.8" fill="#fe6206"/>
<circle cx="1424.6" cy="764.9" r="4.8" fill="#fe6206"/>
<circle cx="1276.9" cy="764.2" r="4.8" fill="#2b80ea"/>
<circle cx="922.3" cy="725.7" r="4.8" fill="#2b80ea"/>
<circle cx="946.4" cy="733.4" r="4.8" fill="#2b80ea"/>
<circle cx="951.7" cy="728.6" r="4.8" fill="#2b80ea"/>
<circle cx="924.2" cy="740.7" r="4.8" fill="#2b80ea"/>
<circle cx="947.4" cy="743.7" r="4.8" fill="#2b80ea"/>
<circle cx="949.6" cy="747.3" r="4.8" fill="#2b80ea"/>
<circle cx="919.6" cy="754.0" r="4.8" fill="#2b80ea"/>
<circle cx="910.4" cy="764.0" r="4.8" fill="#2b80ea"/>
<circle cx="951.7" cy="762.9" r="4.8" fill="#2b80ea"/>
<circle cx="947.4" cy="761.0" r="4.8" fill="#2b80ea"/>
<circle cx="963.9" cy="767.4" r="4.8" fill="#2b80ea"/>
<circle cx="972.8" cy="766.4" r="4.8" fill="#2b80ea"/>
<circle cx="992.5" cy="727.0" r="4.8" fill="#2b80ea"/>
<circle cx="1017.6" cy="732.6" r="4.8" fill="#fe6206"/>
<circle cx="1035.1" cy="728.6" r="4.8" fill="#2b80ea"/>
<circle cx="1046.2" cy="735.4" r="4.8" fill="#2b80ea"/>
<circle cx="1077.5" cy="743.4" r="4.8" fill="#2b80ea"/>
<circle cx="1026.0" cy="745.8" r="4.8" fill="#2b80ea"/>
<circle cx="1028.7" cy="750.0" r="4.8" fill="#2b80ea"/>
<circle cx="1010.9" cy="750.8" r="4.8" fill="#fe6206"/>
<circle cx="1020.8" cy="750.5" r="4.8" fill="#fe6206"/>
<circle cx="1045.4" cy="749.2" r="4.8" fill="#2b80ea"/>
<circle cx="1064.2" cy="750.2" r="4.8" fill="#2b80ea"/>
<circle cx="1056.2" cy="755.0" r="4.8" fill="#2b80ea"/>
<circle cx="1037.5" cy="758.0" r="4.8" fill="#fe6206"/>
<circle cx="1019.4" cy="763.2" r="4.8" fill="#2b80ea"/>
<circle cx="995.4" cy="768.0" r="4.8" fill="#2b80ea"/>
<circle cx="1006.8" cy="776.3" r="4.8" fill="#2b80ea"/>
<circle cx="1015.2" cy="780.7" r="4.8" fill="#fe6206"/>
<circle cx="1036.0" cy="776.4" r="4.8" fill="#2b80ea"/>
<circle cx="1042.7" cy="771.8" r="4.8" fill="#fe6206"/>
<circle cx="1040.7" cy="790.2" r="4.8" fill="#2b80ea"/>
<circle cx="1048.3" cy="790.5" r="4.8" fill="#2b80ea"/>
<circle cx="936.0" cy="800.2" r="4.8" fill="#2b80ea"/>
<circle cx="925.5" cy="804.2" r="4.8" fill="#2b80ea"/>
<circle cx="957.6" cy="803.1" r="4.8" fill="#2b80ea"/>
<circle cx="991.6" cy="796.4" r="4.8" fill="#2b80ea"/>
<circle cx="1002.8" cy="802.0" r="4.8" fill="#2b80ea"/>
<circle cx="1003.6" cy="816.1" r="4.8" fill="#2b80ea"/>
<circle cx="1015.2" cy="814.1" r="4.8" fill="#fe6206"/>
<circle cx="1018.9" cy="820.7" r="4.8" fill="#fe6206"/>
<circle cx="1043.0" cy="820.4" r="4.8" fill="#2b80ea"/>
<circle cx="1048.6" cy="814.1" r="4.8" fill="#fe6206"/>
<circle cx="1061.0" cy="820.4" r="4.8" fill="#2b80ea"/>
<circle cx="913.1" cy="825.2" r="4.8" fill="#2b80ea"/>
<circle cx="954.1" cy="822.5" r="4.8" fill="#2b80ea"/>
<circle cx="1006.2" cy="832.6" r="4.8" fill="#2b80ea"/>
<circle cx="999.3" cy="833.1" r="4.8" fill="#fe6206"/>
<circle cx="1028.6" cy="846.6" r="4.8" fill="#fe6206"/>
<circle cx="918.5" cy="841.4" r="4.8" fill="#2b80ea"/>
<circle cx="922.3" cy="854.9" r="4.8" fill="#2b80ea"/>
<circle cx="960.9" cy="855.4" r="4.8" fill="#2b80ea"/>
<circle cx="1078.0" cy="853.3" r="4.8" fill="#fe6206"/>
<circle cx="1036.8" cy="866.1" r="4.8" fill="#2b80ea"/>
<circle cx="969.8" cy="880.2" r="4.8" fill="#2b80ea"/>
<circle cx="973.9" cy="887.3" r="4.8" fill="#2b80ea"/>
<circle cx="933.8" cy="888.9" r="4.8" fill="#2b80ea"/>
<circle cx="926.1" cy="891.3" r="4.8" fill="#2b80ea"/>
<circle cx="1012.7" cy="890.1" r="4.8" fill="#2b80ea"/>
<circle cx="1057.8" cy="894.2" r="4.8" fill="#2b80ea"/>
<circle cx="1053.5" cy="892.5" r="4.8" fill="#2b80ea"/>
<circle cx="1070.2" cy="900.2" r="4.8" fill="#2b80ea"/>
<circle cx="992.2" cy="916.3" r="4.8" fill="#2b80ea"/>
<circle cx="999.0" cy="916.6" r="4.8" fill="#2b80ea"/>
<circle cx="1005.4" cy="918.6" r="4.8" fill="#2b80ea"/>
<circle cx="1076.9" cy="928.0" r="4.8" fill="#fe6206"/>
<circle cx="983.1" cy="942.9" r="4.8" fill="#2b80ea"/>
<circle cx="1001.2" cy="945.0" r="4.8" fill="#2b80ea"/>
<circle cx="1160.8" cy="726.4" r="4.8" fill="#fe6206"/>
<circle cx="1146.8" cy="734.2" r="4.8" fill="#fe6206"/>
<circle cx="1139.3" cy="744.5" r="4.8" fill="#fe6206"/>
<circle cx="1159.2" cy="749.6" r="4.8" fill="#fe6206"/>
<circle cx="1155.7" cy="755.6" r="4.8" fill="#fe6206"/>
<circle cx="1172.4" cy="760.7" r="4.8" fill="#fe6206"/>
<circle cx="1231.5" cy="743.8" r="4.8" fill="#fe6206"/>
<circle cx="1094.5" cy="765.1" r="4.8" fill="#fe6206"/>
<circle cx="1111.2" cy="773.2" r="4.8" fill="#fe6206"/>
<circle cx="1103.8" cy="781.0" r="4.8" fill="#fe6206"/>
<circle cx="1098.4" cy="786.1" r="4.8" fill="#fe6206"/>
<circle cx="1090.3" cy="787.8" r="4.8" fill="#fe6206"/>
<circle cx="1089.0" cy="795.3" r="4.8" fill="#2b80ea"/>
<circle cx="1094.2" cy="801.5" r="4.8" fill="#2b80ea"/>
<circle cx="1106.5" cy="806.0" r="4.8" fill="#2b80ea"/>
<circle cx="1195.7" cy="777.5" r="4.8" fill="#fe6206"/>
<circle cx="1186.0" cy="787.8" r="4.8" fill="#fe6206"/>
<circle cx="1167.3" cy="802.1" r="4.8" fill="#fe6206"/>
<circle cx="1159.8" cy="807.4" r="4.8" fill="#fe6206"/>
<circle cx="1134.3" cy="807.2" r="4.8" fill="#fe6206"/>
<circle cx="1262.8" cy="803.4" r="4.8" fill="#2b80ea"/>
<circle cx="1156.8" cy="826.6" r="4.8" fill="#fe6206"/>
<circle cx="1222.3" cy="836.1" r="4.8" fill="#fe6206"/>
<circle cx="1271.7" cy="838.2" r="4.8" fill="#2b80ea"/>
<circle cx="1107.7" cy="838.8" r="4.8" fill="#fe6206"/>
<circle cx="1137.4" cy="848.5" r="4.8" fill="#fe6206"/>
<circle cx="1114.7" cy="852.5" r="4.8" fill="#fe6206"/>
<circle cx="1133.2" cy="862.8" r="4.8" fill="#fe6206"/>
<circle cx="1164.0" cy="876.7" r="4.8" fill="#fe6206"/>
<circle cx="1270.6" cy="867.9" r="4.8" fill="#2b80ea"/>
<circle cx="1101.2" cy="917.9" r="4.8" fill="#fe6206"/>
<circle cx="1126.9" cy="933.4" r="4.8" fill="#fe6206"/>
<circle cx="1256.4" cy="925.8" r="4.8" fill="#2b80ea"/>
<circle cx="1305.5" cy="807.4" r="4.8" fill="#fe6206"/>
<circle cx="1338.4" cy="797.8" r="4.8" fill="#2b80ea"/>
<circle cx="1336.9" cy="810.8" r="4.8" fill="#2b80ea"/>
<circle cx="1341.4" cy="807.6" r="4.8" fill="#2b80ea"/>
<circle cx="1330.5" cy="825.3" r="4.8" fill="#2b80ea"/>
<circle cx="1327.3" cy="822.5" r="4.8" fill="#fe6206"/>
<circle cx="1367.0" cy="821.9" r="4.8" fill="#2b80ea"/>
<circle cx="1363.1" cy="825.7" r="4.8" fill="#fe6206"/>
<circle cx="1374.9" cy="828.1" r="4.8" fill="#fe6206"/>
<circle cx="1305.5" cy="834.7" r="4.8" fill="#2b80ea"/>
<circle cx="1316.8" cy="834.5" r="4.8" fill="#2b80ea"/>
<circle cx="1324.7" cy="845.4" r="4.8" fill="#2b80ea"/>
<circle cx="1305.1" cy="848.8" r="4.8" fill="#2b80ea"/>
<circle cx="1316.6" cy="849.6" r="4.8" fill="#2b80ea"/>
<circle cx="1380.2" cy="847.5" r="4.8" fill="#fe6206"/>
<circle cx="1381.9" cy="844.5" r="4.8" fill="#fe6206"/>
<circle cx="1281.8" cy="857.8" r="4.8" fill="#2b80ea"/>
<circle cx="1310.6" cy="865.0" r="4.8" fill="#fe6206"/>
<circle cx="1327.9" cy="887.0" r="4.8" fill="#fe6206"/>
<circle cx="1350.3" cy="893.8" r="4.8" fill="#fe6206"/>
<circle cx="1363.8" cy="891.3" r="4.8" fill="#fe6206"/>
<circle cx="1389.6" cy="912.8" r="4.8" fill="#fe6206"/>
<circle cx="1314.0" cy="904.3" r="4.8" fill="#2b80ea"/>
<circle cx="1337.9" cy="907.7" r="4.8" fill="#2b80ea"/>
<circle cx="1299.5" cy="919.7" r="4.8" fill="#2b80ea"/>
<circle cx="1286.7" cy="940.1" r="4.8" fill="#2b80ea"/>
<circle cx="1352.0" cy="952.5" r="4.8" fill="#2b80ea"/></g>
<rect x="887.6" y="37.6" width="203.5" height="55.4" rx="3" fill="#eef0f8" fill-opacity="0.8" stroke="#cdcdcd" stroke-width="1.6"/>
<circle cx="910.6" cy="55.1" r="6.2" fill="#2b80ea"/>
<circle cx="910.6" cy="78.5" r="6.2" fill="#fe6206"/>
<text x="939.5" y="58.8" font-size="22.3" font-family="Liberation Sans, sans-serif" fill="#1e1e1e">MKL</text>
<text x="939.5" y="82.4" font-size="22.3" font-family="Liberation Sans, sans-serif" fill="#1e1e1e">Unimodal SVM</text>
<text x="1123.4" y="488.1" font-size="22.4" font-family="Liberation Sans, sans-serif" fill="#1e1e1e">PC 1 (a.u.)</text>
<text x="358.9" y="1001.9" font-size="22.4" font-family="Liberation Sans, sans-serif" fill="#1e1e1e">PC 1 (a.u.)</text>
<text x="1123.1" y="1001.5" font-size="22.4" font-family="Liberation Sans, sans-serif" fill="#1e1e1e">PC 1 (a.u.)</text>
<text transform="translate(859.5,286.8) rotate(-90)" font-size="22.3" font-family="Liberation Sans, sans-serif" fill="#1e1e1e">PC 2 (a.u.)</text>
<text transform="translate(95.0,799.5) rotate(-90)" font-size="22.3" font-family="Liberation Sans, sans-serif" fill="#1e1e1e">PC 2 (a.u.)</text>
<text transform="translate(859.5,802.7) rotate(-90)" font-size="22.3" font-family="Liberation Sans, sans-serif" fill="#1e1e1e">PC 2 (a.u.)</text>
<text transform="translate(812.9,432.6) rotate(-90)" font-size="36.3" font-family="Liberation Sans, sans-serif" fill="#000">Fractional Anisotropy</text>
<text transform="translate(48.0,895.5) rotate(-90)" font-size="36.3" font-family="Liberation Sans, sans-serif" fill="#000">Brain Structure</text>
<text transform="translate(812.9,963.8) rotate(-90)" font-size="36.3" font-family="Liberation Sans, sans-serif" fill="#000">Functional Connectivity</text>
</svg>
</body></html>
